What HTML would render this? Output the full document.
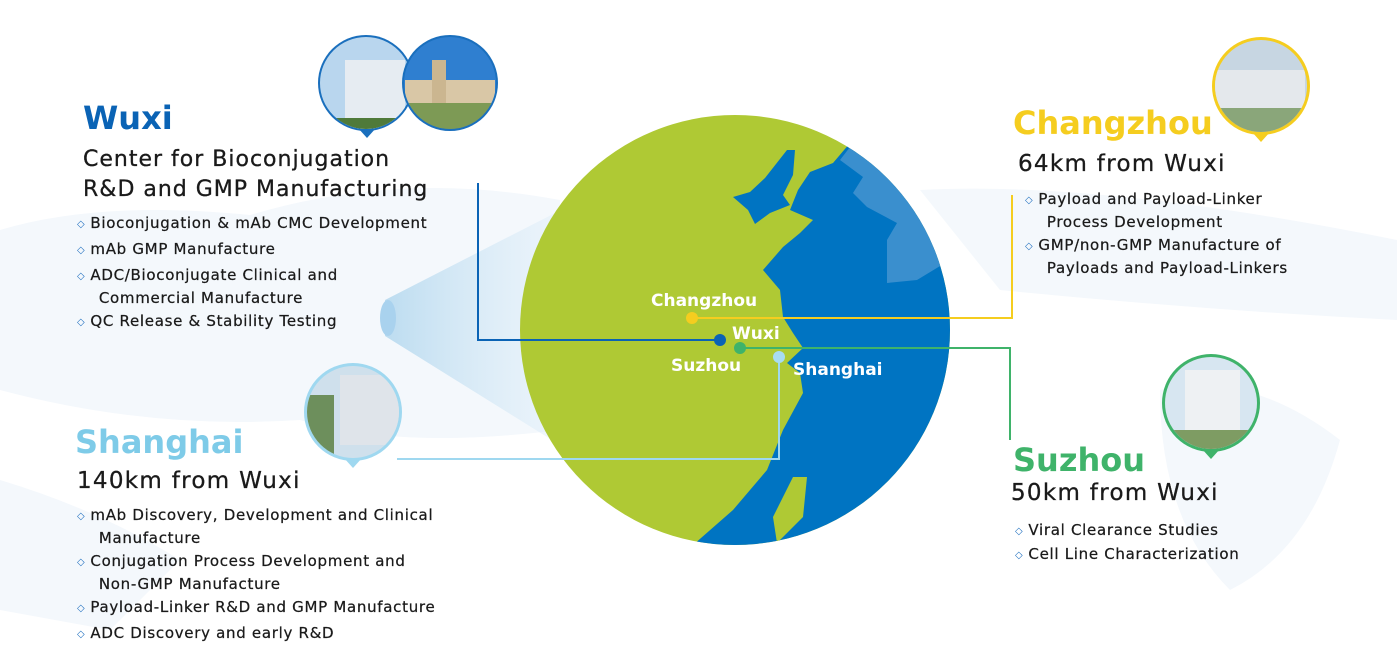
<!DOCTYPE html>
<html><head><meta charset="utf-8"><style>
body{margin:0;width:1397px;height:671px;overflow:hidden;background:#fff;font-family:"DejaVu Sans",sans-serif;position:relative}
.t{position:absolute;white-space:nowrap;color:#1a1a1a}
.h{font-weight:bold;font-size:32px}
.s{font-size:22px;letter-spacing:1px;-webkit-text-stroke:0.3px #1a1a1a}
.b{font-size:15px;line-height:20px;letter-spacing:0.7px;-webkit-text-stroke:0.25px #1a1a1a}
.b i{font-style:normal;color:#1f6fbf;font-size:10px;margin-right:5px;position:relative;top:-1px;-webkit-text-stroke:0}
</style></head><body>
<svg width="1397" height="671" style="position:absolute;left:0;top:0">
<defs>
<clipPath id="g"><circle cx="735" cy="330" r="215"/></clipPath>
<linearGradient id="cone" x1="0" x2="1" y1="0" y2="0"><stop offset="0" stop-color="#bcdcf0"/><stop offset="1" stop-color="#e9f3fb" stop-opacity="0.3"/></linearGradient>
<clipPath id="c1"><circle cx="366" cy="83" r="46"/></clipPath>
<clipPath id="c2"><circle cx="450" cy="83" r="46"/></clipPath>
<clipPath id="c3"><circle cx="1261" cy="86" r="46"/></clipPath>
<clipPath id="c4"><circle cx="353" cy="412" r="46"/></clipPath>
<clipPath id="c5"><circle cx="1211" cy="403" r="46"/></clipPath>
</defs>
<g fill="#f4f8fc">
<path d="M0 230 Q100 200 250 215 Q400 170 560 200 L560 430 Q400 450 300 420 Q150 430 0 390Z"/>
<path d="M920 190 Q1100 180 1397 240 L1397 320 Q1200 310 1000 290Z"/>
<path d="M1160 390 Q1250 370 1340 440 Q1310 550 1230 590 Q1160 520 1160 390Z"/>
<path d="M0 480 Q100 510 180 560 L110 630 L0 610Z"/>
</g>
<polygon points="385,300 600,190 600,470 385,336" fill="url(#cone)"/>
<ellipse cx="388" cy="318" rx="8" ry="18" fill="#a9d2ee"/>
<circle cx="735" cy="330" r="215" fill="#afc934"/>
<g clip-path="url(#g)">
<path d="M850 143 L833 163 L810 172 L798 190 L790 210 L813 220 L800 233 L783 247 L763 270 L780 290 L783 317 L793 333 L803 348 L787 363 L800 373 L803 393 L783 430 L767 470 L733 510 L693 545 L960 545 L960 100 L870 100Z" fill="#0074c2"/>
<path d="M787 150 L795 150 L793 175 L783 195 L790 205 L770 213 L755 224 L748 210 L733 197 L750 192 L765 178Z" fill="#0074c2"/>
<path d="M850 147 L840 160 L863 177 L853 193 L867 207 L897 223 L887 240 L887 283 L917 280 L950 260 L950 100 L860 100Z" fill="#3a8fce"/>
<path d="M793 477 L807 477 L803 517 L777 543 L773 517Z" fill="#afc934"/>
</g>
<g fill="none" stroke-width="2">
<polyline points="478,183 478,340 720,340" stroke="#0a63b5"/>
<polyline points="692,318 1012,318 1012,195" stroke="#f5cd1f"/>
<polyline points="740,348 1010,348 1010,440" stroke="#3fb36a"/>
<polyline points="779,357 779,459 397,459" stroke="#9fd8f0"/>
</g>
<circle cx="692" cy="318" r="6" fill="#f5cd1f"/>
<circle cx="720" cy="340" r="6" fill="#0a63b5"/>
<circle cx="740" cy="348" r="6" fill="#3fb36a"/>
<circle cx="779" cy="357" r="6" fill="#a8dcf2"/>
<g font-family="DejaVu Sans" font-weight="bold" font-size="17" fill="#fff">
<text x="651" y="306">Changzhou</text><text x="732" y="339">Wuxi</text>
<text x="671" y="371">Suzhou</text><text x="793" y="375">Shanghai</text></g>
<polygon points="358,128 376,128 367,138" fill="#1a6fbd"/>
<circle cx="366" cy="83" r="48" fill="#1a6fbd"/>
<g clip-path="url(#c1)"><rect x="318" y="35" width="96" height="96" fill="#b9d6ee"/><rect x="345" y="60" width="60" height="70" fill="#e6ecf2"/><rect x="318" y="118" width="96" height="15" fill="#4f7a3a"/></g>
<circle cx="450" cy="83" r="48" fill="#1a6fbd"/>
<g clip-path="url(#c2)"><rect x="402" y="35" width="96" height="96" fill="#2f7fd0"/><rect x="405" y="80" width="90" height="25" fill="#d9c7a6"/><rect x="432" y="60" width="14" height="45" fill="#cbb690"/><rect x="402" y="103" width="96" height="28" fill="#7d9a55"/></g>
<polygon points="1252,132 1270,132 1261,142" fill="#f5cd1f"/>
<circle cx="1261" cy="86" r="49" fill="#f5cd1f"/>
<g clip-path="url(#c3)"><rect x="1210" y="35" width="102" height="102" fill="#c7d6e2"/><rect x="1215" y="70" width="90" height="40" fill="#e4e8ec"/><rect x="1210" y="108" width="102" height="30" fill="#8aa67a"/></g>
<polygon points="344,458 362,458 353,468" fill="#9fd8f0"/>
<circle cx="353" cy="412" r="49" fill="#9fd8f0"/>
<g clip-path="url(#c4)"><rect x="304" y="363" width="100" height="100" fill="#cfe0ec"/><rect x="340" y="375" width="60" height="70" fill="#dfe4ea"/><rect x="304" y="395" width="30" height="60" fill="#6d8f5c"/></g>
<polygon points="1202,449 1220,449 1211,459" fill="#3fb36a"/>
<circle cx="1211" cy="403" r="49" fill="#3fb36a"/>
<g clip-path="url(#c5)"><rect x="1160" y="354" width="102" height="102" fill="#d7e6f1"/><rect x="1185" y="370" width="55" height="75" fill="#eef1f3"/><rect x="1160" y="430" width="102" height="25" fill="#7e9c63"/></g>
</svg>

<div class="t h" style="left:83px;top:99px;color:#0a63b5">Wuxi</div>
<div class="t s" style="left:83px;top:145px;line-height:30px">Center for Bioconjugation<br>R&amp;D and GMP Manufacturing</div>
<div class="t b" style="left:77px;top:213px"><i>◇</i>Bioconjugation &amp; mAb CMC Development</div>
<div class="t b" style="left:77px;top:239px"><i>◇</i>mAb GMP Manufacture</div>
<div class="t b" style="left:77px;top:265px"><i>◇</i>ADC/Bioconjugate Clinical and<br>&nbsp;&nbsp;&nbsp;&nbsp;Commercial Manufacture</div>
<div class="t b" style="left:77px;top:311px"><i>◇</i>QC Release &amp; Stability Testing</div>

<div class="t h" style="left:1013px;top:104px;color:#f5cd1f">Changzhou</div>
<div class="t s" style="left:1018px;top:151px;font-size:23px;letter-spacing:1.3px">64km from Wuxi</div>
<div class="t b" style="left:1025px;top:189px"><i>◇</i>Payload and Payload-Linker<br>&nbsp;&nbsp;&nbsp;&nbsp;Process Development</div>
<div class="t b" style="left:1025px;top:235px"><i>◇</i>GMP/non-GMP Manufacture of<br>&nbsp;&nbsp;&nbsp;&nbsp;Payloads and Payload-Linkers</div>

<div class="t h" style="left:75px;top:423px;color:#7ecbe8">Shanghai</div>
<div class="t s" style="left:77px;top:468px;font-size:23px;letter-spacing:1.3px">140km from Wuxi</div>
<div class="t b" style="left:77px;top:505px"><i>◇</i>mAb Discovery, Development and Clinical<br>&nbsp;&nbsp;&nbsp;&nbsp;Manufacture</div>
<div class="t b" style="left:77px;top:551px"><i>◇</i>Conjugation Process Development and<br>&nbsp;&nbsp;&nbsp;&nbsp;Non-GMP Manufacture</div>
<div class="t b" style="left:77px;top:597px"><i>◇</i>Payload-Linker R&amp;D and GMP Manufacture</div>
<div class="t b" style="left:77px;top:623px"><i>◇</i>ADC Discovery and early R&amp;D</div>

<div class="t h" style="left:1013px;top:441px;color:#3fb36a">Suzhou</div>
<div class="t s" style="left:1011px;top:480px;font-size:23px;letter-spacing:1.3px">50km from Wuxi</div>
<div class="t b" style="left:1015px;top:520px"><i>◇</i>Viral Clearance Studies</div>
<div class="t b" style="left:1015px;top:544px"><i>◇</i>Cell Line Characterization</div>
</body></html>
